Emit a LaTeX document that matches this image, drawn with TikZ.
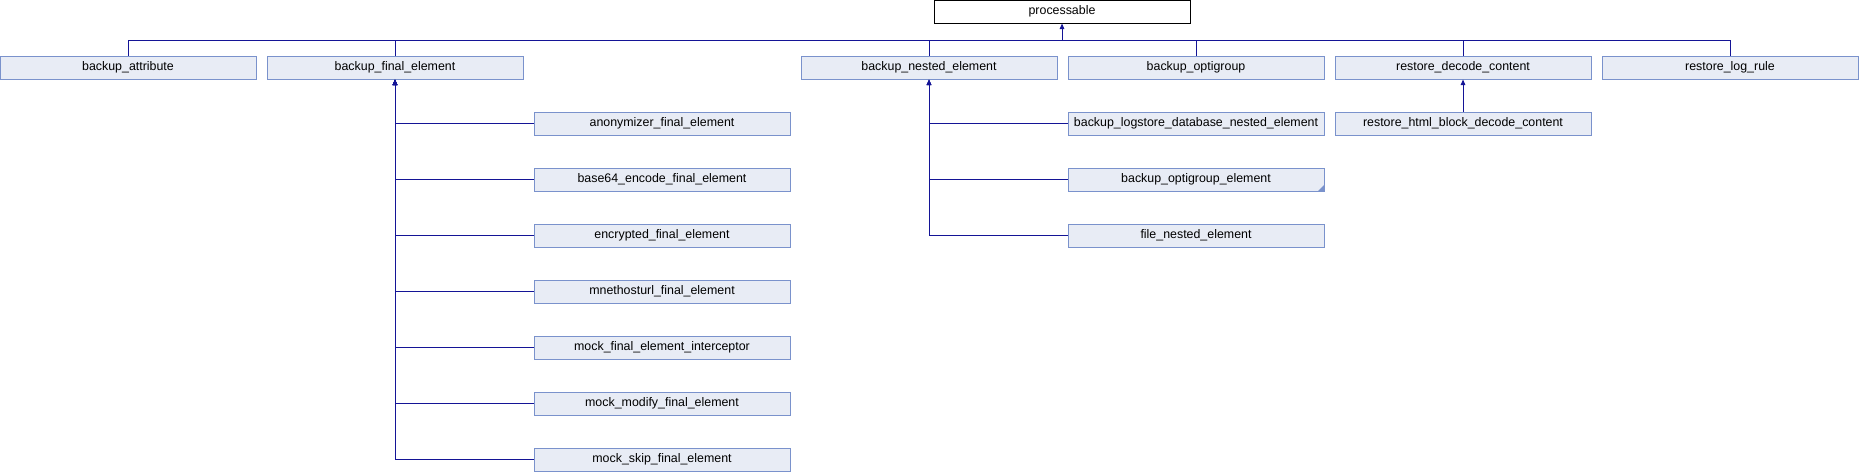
\documentclass[tikz,border=0pt]{standalone}
\usepackage{fontspec}
\setmainfont{Liberation Sans}
\usetikzlibrary{arrows.meta}
\definecolor{boxfill}{RGB}{232,236,245}
\definecolor{boxline}{RGB}{122,146,204}
\definecolor{edgeblue}{RGB}{20,20,150}
\begin{document}
\begin{tikzpicture}[x=1pt,y=-1pt]
        \tikzstyle{cls}=[draw=boxline, fill=boxfill, line width=1pt, minimum width=256pt, minimum height=23pt, inner sep=0pt, text height=9.4pt, text depth=3pt, font=\fontsize{12.4}{14}\selectfont]
        \tikzstyle{base}=[cls, draw=black, fill=white]
        \tikzstyle{edge}=[draw=edgeblue, line width=1pt]
        \tikzstyle{inherit}=[edge, -{Triangle[width=4.5pt,length=5.5pt]}]
        \useasboundingbox (0,0) rectangle (1859,472);
        % base class
        \node[base] (proc) at (1062,11.5) {processable};
        \coordinate (bus) at (1062,40);
        % first level
        \node[cls] (battr) at (128,67.5) {backup\_attribute};
        \node[cls] (bfinal) at (395,67.5) {backup\_final\_element};
        \node[cls] (bnested) at (929,67.5) {backup\_nested\_element};
        \node[cls] (boptig) at (1196,67.5) {backup\_optigroup};
        \node[cls] (rdecode) at (1463,67.5) {restore\_decode\_content};
        \node[cls] (rlog) at (1730,67.5) {restore\_log\_rule};
        \draw[edge] (battr.north) |- (bus) -| (rlog.north);
        \foreach \n in {bfinal,bnested,boptig,rdecode}
          \draw[edge] (\n.north) |- (bus);
        \draw[inherit] (bus) -- (proc.south);
        % children of backup_final_element
        \foreach \n/\t [count=\i from 0] in {anon/anonymizer\_final\_element,
            b64/base64\_encode\_final\_element,
            encr/encrypted\_final\_element,
            mneth/mnethosturl\_final\_element,
            mintc/mock\_final\_element\_interceptor,
            mmod/mock\_modify\_final\_element,
            mskip/mock\_skip\_final\_element}{
          \node[cls] (\n) at (662,123.5+56*\i) {\t};
          \draw[inherit] (\n.west) -| (bfinal.south);
        }
        % children of backup_nested_element
        \foreach \n/\t [count=\i from 0] in {blogdb/backup\_logstore\_database\_nested\_element,
            boptel/backup\_optigroup\_element,
            fnested/file\_nested\_element}{
          \node[cls] (\n) at (1196,123.5+56*\i) {\t};
          \draw[inherit] (\n.west) -| (bnested.south);
        }
        \fill[boxline] (boptel.south east) -- ++(-7,0) -- ++(7,-7) -- cycle;
        % child of restore_decode_content
        \node[cls] (rhtml) at (1463,123.5) {restore\_html\_block\_decode\_content};
        \draw[inherit] (rhtml.north) -- (rdecode.south);
\end{tikzpicture}
\end{document}
